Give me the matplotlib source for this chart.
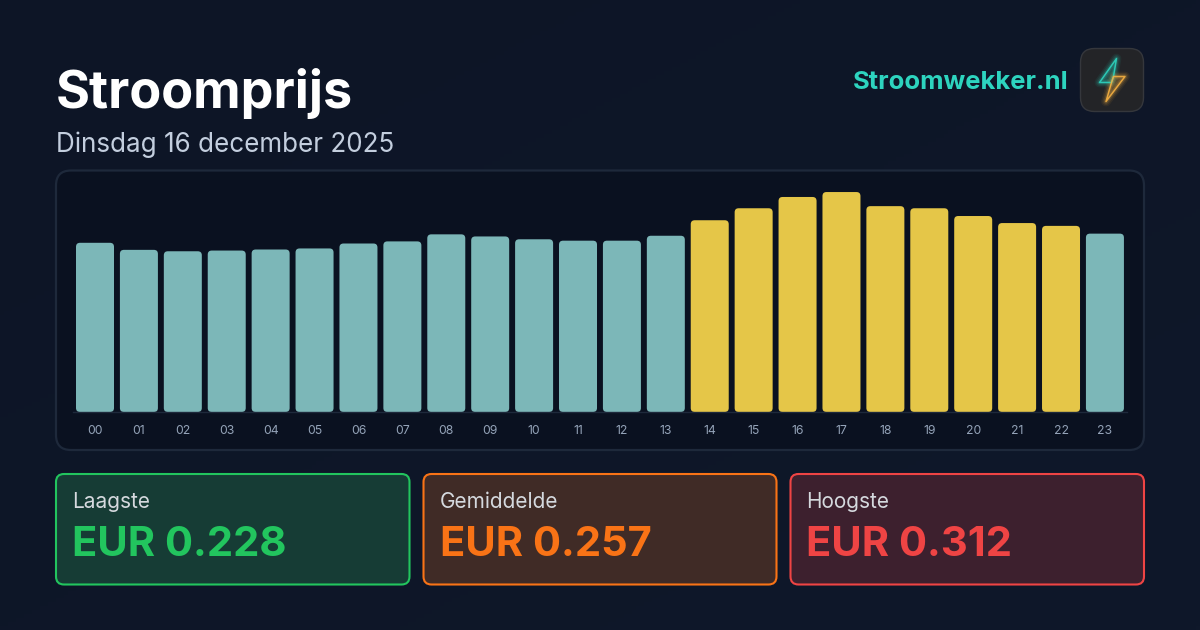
import numpy as np
import matplotlib
matplotlib.use("Agg")
import matplotlib.pyplot as plt
from matplotlib.patches import FancyBboxPatch, Polygon

plt.rcParams['font.family'] = ['Inter', 'DejaVu Sans']

# Hourly prices in EUR per kWh
hours = ["00","01","02","03","04","05","06","07","08","09","10","11",
         "12","13","14","15","16","17","18","19","20","21","22","23"]
prices = [0.240,0.230,0.228,0.229,0.2305,0.232,0.239,0.242,0.252,0.249,0.245,0.243,
          0.243,0.250,0.272,0.289,0.305,0.312,0.292,0.289,0.278,0.268,0.264,0.253]
is_peak = [False]*14 + [True]*9 + [False]

title = "Stroomprijs"
subtitle = "Dinsdag 16 december 2025"
brand = "Stroomwekker.nl"
card_labels = ["Laagste", "Gemiddelde", "Hoogste"]
card_values = ["EUR 0.228", "EUR 0.257", "EUR 0.312"]
card_accents = ["#22c55e", "#f97316", "#ef4444"]
card_fills = ["#163c35", "#402b26", "#3d202e"]

W, H = 1200, 630
fig = plt.figure(figsize=(W/100, H/100), dpi=100)

# Full-figure layer in pixel units for the page furniture
page = fig.add_axes([0, 0, 1, 1])
page.axis("off")

# Soft diagonal page background
gx, gy = np.meshgrid(np.linspace(0, 1, 300), np.linspace(0, 1, 160))
g = (gx + gy) / 2
c0, c1 = np.array([13, 21, 38]), np.array([15, 24, 42])
page.imshow((c0 + (c1 - c0) * g[..., None]).astype(np.uint8), extent=(0, W, H, 0),
            aspect="auto", zorder=0)
page.set_xlim(0, W)
page.set_ylim(H, 0)


def rounded(ax, x0, y0, x1, y1, r, **kw):
    patch = FancyBboxPatch((x0 + r, y0 + r), x1 - x0 - 2*r, y1 - y0 - 2*r,
                           boxstyle=f"round,pad={r},rounding_size={r}", **kw)
    ax.add_patch(patch)
    return patch


page.text(56, 93.5, title, fontsize=37.5, fontweight="bold", color="white", va="center", ha="left")
page.text(56, 144.5, subtitle, fontsize=18.72, color="#c3cede", va="center", ha="left")
page.text(1068, 82.3, brand, fontsize=18.45, fontweight="bold", color="#2dd4bf", va="center", ha="right")

# Brand icon with a glowing two-tone bolt
rounded(page, 1080.5, 48.5, 1143.5, 111.5, 14, facecolor="#232427", edgecolor="#35373c", linewidth=1, zorder=2)
bolt_top = [(1116.5, 58.5), (1099.5, 82.5), (1111.5, 82.5), (1113.5, 76.5)]
bolt_bottom = [(1113.5, 76.5), (1125, 76.5), (1106, 101.5), (1111.5, 82.5)]
for pts, col in ((bolt_top, "#2dd4bf"), (bolt_bottom, "#f5b041")):
    page.add_patch(Polygon(pts, closed=True, facecolor=col, edgecolor="none", alpha=0.18, zorder=3))
    for lw, a in ((7, 0.07), (5, 0.10), (3, 0.18)):
        page.add_patch(Polygon(pts, closed=True, fill=False, edgecolor=col, linewidth=lw, alpha=a,
                               joinstyle="round", zorder=3))
    page.add_patch(Polygon(pts, closed=True, edgecolor=col, linewidth=1.1, alpha=0.9,
                           fill=False, joinstyle="round", zorder=4))

# Chart panel
rounded(page, 56, 170.5, 1144, 450, 15, facecolor="#0a1120", edgecolor="#1e293b", linewidth=1.6, zorder=1)

# Bars on their own axes: zero baseline sits at y=412 px, 705 px per EUR
px_per_eur = 705.0
top_eur = 0.33
ax_left = 95 - 21.955
ax_width = 43.91 * 24
ax_h = top_eur * px_per_eur
ax = fig.add_axes([ax_left/W, (H - 412)/H, ax_width/W, ax_h/H], zorder=5)
ax.patch.set_alpha(0)
ax.set_xlim(-0.5, 23.5)
ax.set_ylim(0, top_eur)
for s in ("top", "left", "right"):
    ax.spines[s].set_visible(False)
ax.spines["bottom"].set_color("#1e293b")
ax.spines["bottom"].set_linewidth(1)
ax.set_yticks([])
ax.set_xticks(range(len(hours)))
ax.set_xticklabels(hours, fontsize=8.8, color="#94a3b8")
ax.tick_params(axis="x", length=0, pad=9.5)

bar_w = 38 / 43.91
rx = 4 / 43.91
aspect = (1/px_per_eur) / (1/43.91)
for i, (v, peak) in enumerate(zip(prices, is_peak)):
    col = "#e5c648" if peak else "#7cb7b8"
    ry = 4 / px_per_eur
    ax.add_patch(FancyBboxPatch((i - bar_w/2 + rx, ry), bar_w - 2*rx, v - 2*ry,
                                boxstyle=f"round,pad={rx},rounding_size={rx}",
                                mutation_aspect=aspect, facecolor=col, edgecolor="none"))

# Summary cards
card_x = [(56, 409.5), (423.5, 776.5), (790.5, 1144)]
for (x0, x1), lab, val, acc, fill in zip(card_x, card_labels, card_values, card_accents, card_fills):
    rounded(page, x0, 474, x1, 584.5, 8, facecolor=fill, edgecolor=acc, linewidth=1.5, zorder=2)
    page.text(x0 + 16, 502, lab, fontsize=15, color="#d5d9de", va="center", ha="left", zorder=3)
    page.text(x0 + 16, 545, val, fontsize=30, fontweight="bold", color=acc, va="center", ha="left", zorder=3)

fig.savefig("out.png", dpi=100, facecolor="#0e1628")
